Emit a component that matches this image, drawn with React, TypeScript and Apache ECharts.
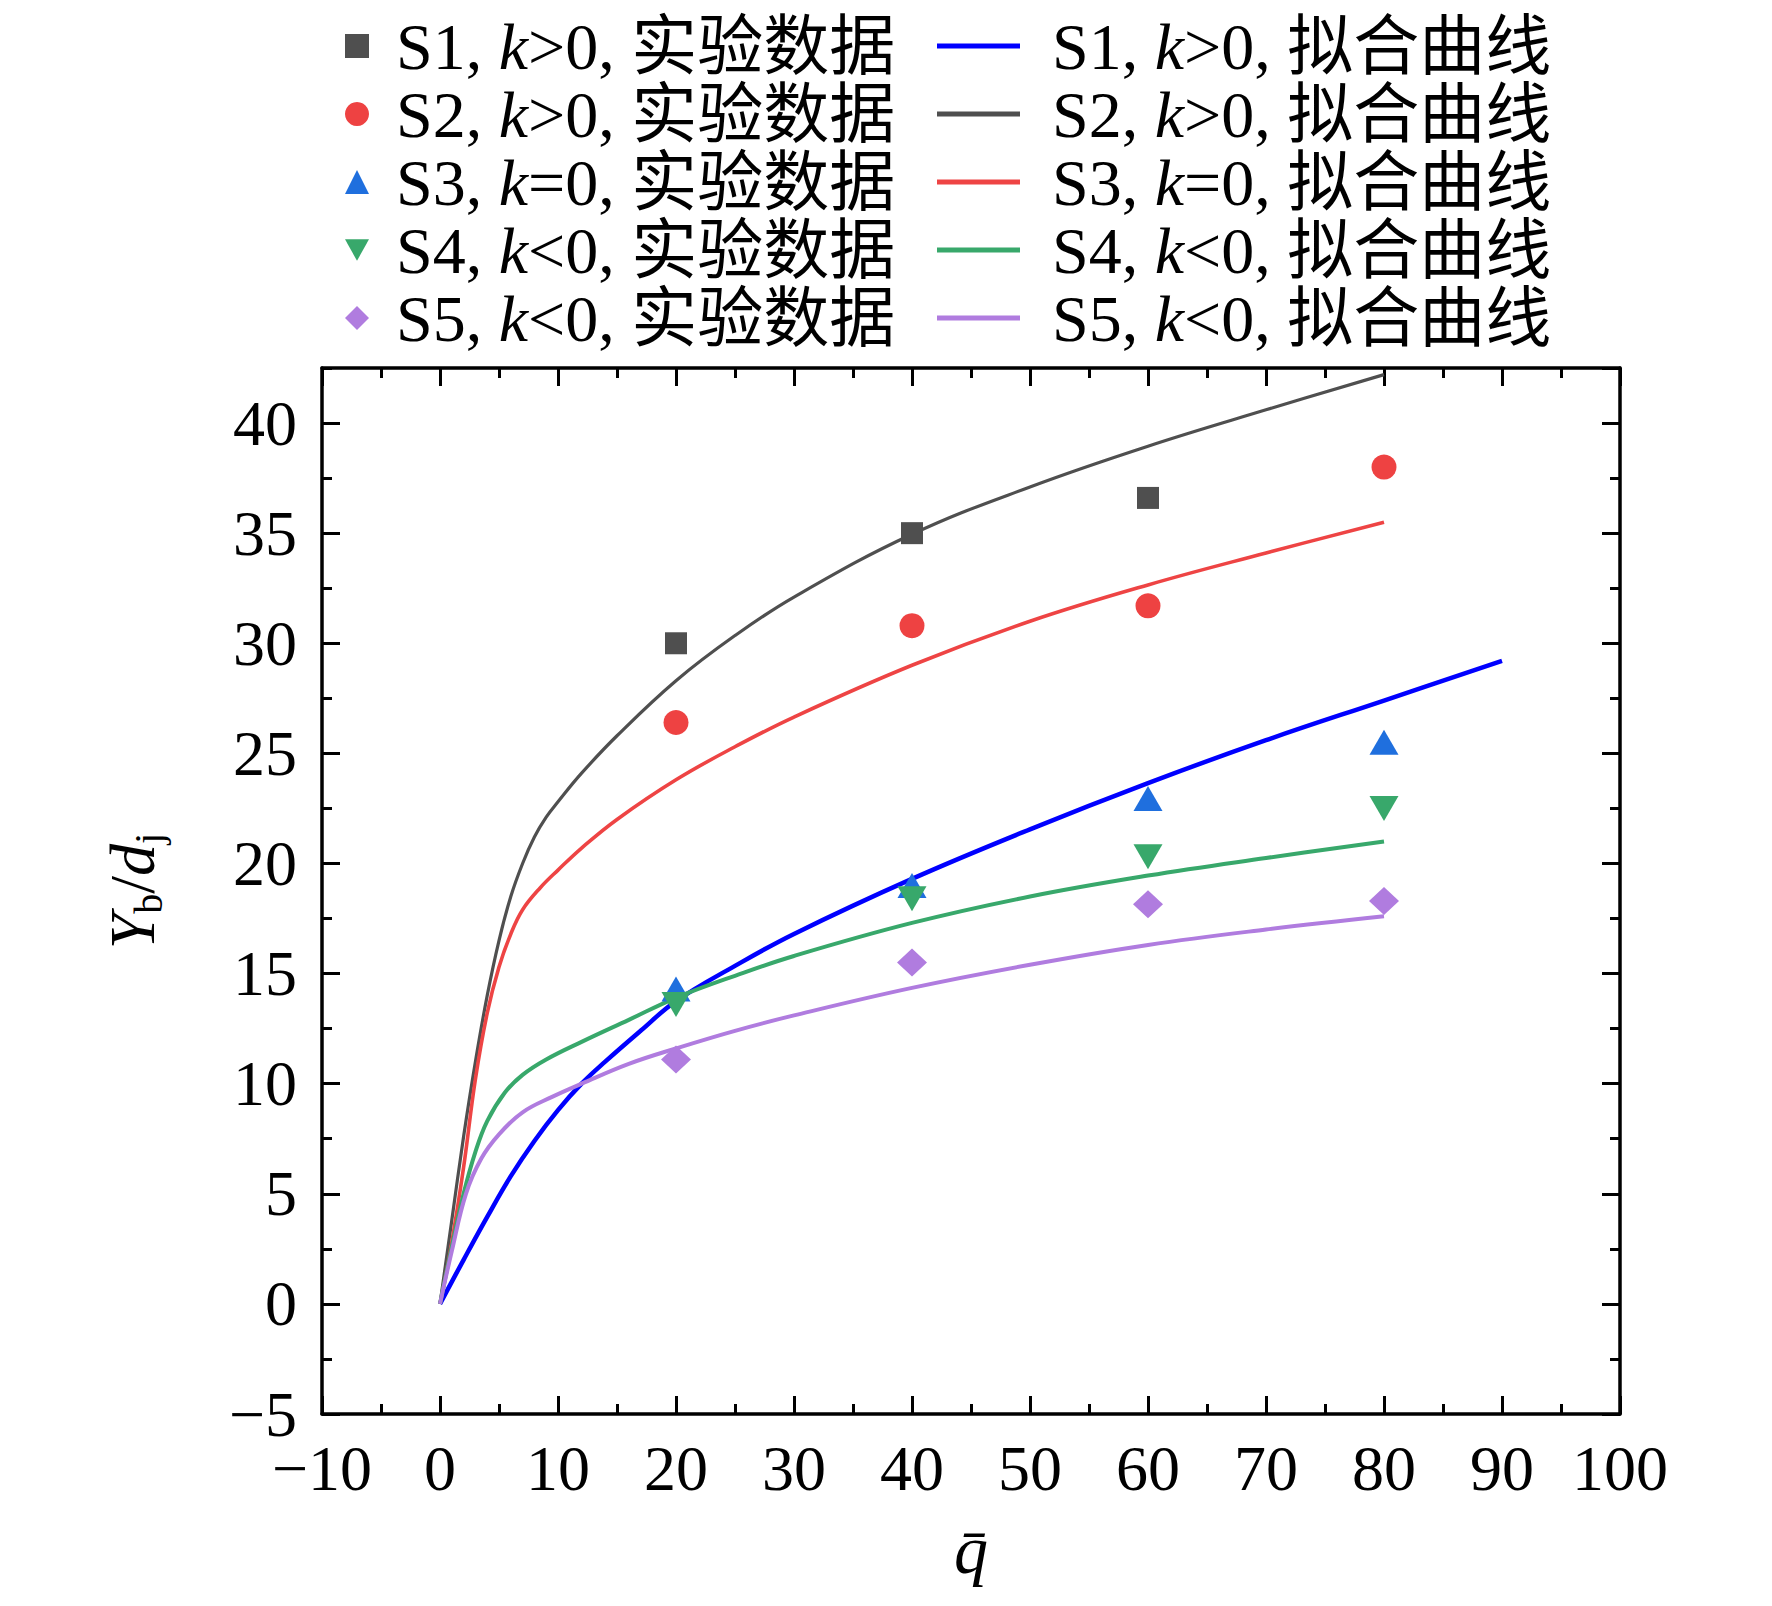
import React, { useEffect, useRef } from "react";
import * as echarts from "echarts";

// ---------- data ----------
const xTicksMin = -10;
const xTicksMax = 100;
const yTicksMin = -5;
const yTicksMax = 42.5;

const expS1: number[][] = [[20, 30.0], [40, 35.0], [60, 36.6]];
const expS2: number[][] = [[20, 26.4], [40, 30.8], [60, 31.7], [80, 38.0]];
const expS3: number[][] = [[20, 14.3], [40, 19.0], [60, 22.95], [80, 25.5]];
const expS4: number[][] = [[20, 13.6], [40, 18.4], [60, 20.3], [80, 22.5]];
const expS5: number[][] = [[20, 11.1], [40, 15.5], [60, 18.15], [80, 18.3]];

const fitS1: number[][] = [
  [0, 0], [2, 2.0], [4, 3.95], [6, 5.8], [8, 7.4], [10, 8.8], [12, 10.0], [14, 11.0],
  [17, 12.4], [20, 13.75], [25, 15.35], [30, 16.8], [40, 19.3], [50, 21.55], [60, 23.65],
  [70, 25.6], [80, 27.4], [90, 29.2],
];
const fitS2: number[][] = [
  [0, 0], [1, 3.8], [2, 7.6], [3, 11.0], [4, 14.0], [5, 16.5], [6, 18.5], [7, 20.0],
  [8, 21.2], [9, 22.1], [10, 22.8], [12, 24.1], [15, 25.8], [20, 28.3], [25, 30.35],
  [30, 32.1], [40, 34.95], [50, 37.1], [60, 38.95], [70, 40.6], [80, 42.2],
];
const fitS3: number[][] = [
  [0, 0], [1, 2.8], [2, 6.2], [3, 10.2], [4, 13.2], [5, 15.3], [6, 16.8], [7, 17.9],
  [8.5, 18.9], [10, 19.7], [12, 20.7], [15, 22.0], [20, 23.8], [25, 25.3], [30, 26.65],
  [40, 29.0], [50, 31.0], [60, 32.65], [70, 34.1], [80, 35.5],
];
const fitS4: number[][] = [
  [0, 0], [1, 2.6], [2, 5.0], [3, 6.9], [4, 8.3], [5.5, 9.6], [7, 10.4], [9, 11.1],
  [12, 11.9], [16, 12.9], [20, 13.9], [25, 14.9], [30, 15.8], [40, 17.3], [50, 18.5],
  [60, 19.45], [70, 20.25], [80, 21.0],
];
const fitS5: number[][] = [
  [0, 0], [1, 2.4], [2.2, 5.0], [3.5, 6.6], [5, 7.7], [7, 8.7], [9.5, 9.4], [12, 10.0],
  [16, 10.9], [20, 11.6], [25, 12.4], [30, 13.1], [40, 14.35], [50, 15.4], [60, 16.3],
  [70, 17.0], [80, 17.6],
];

const expNames = [
  "S1, k>0, 实验数据",
  "S2, k>0, 实验数据",
  "S3, k=0, 实验数据",
  "S4, k<0, 实验数据",
  "S5, k<0, 实验数据",
];
const fitNames = [
  "S1, k>0, 拟合曲线",
  "S2, k>0, 拟合曲线",
  "S3, k=0, 拟合曲线",
  "S4, k<0, 拟合曲线",
  "S5, k<0, 拟合曲线",
];

const expColors = ["#4f4f4f", "#ee4242", "#1f6fde", "#38a86b", "#b07cdf"];
const fitColors = ["#0000ff", "#4f4f4f", "#ee4444", "#38a86b", "#b07cdf"];
const fitWidths = [4.5, 3.2, 3.6, 4, 4];

const FONT = "'Liberation Serif', 'Times New Roman', 'Noto Sans CJK SC', serif";
const DOWN_TRI = "path://M0,0 L10,0 L5,9 Z";

const minus = (v: number) => String(v).replace("-", "\u2212");

export default function App() {
  const ref = useRef<HTMLDivElement>(null);

  useEffect(() => {
    if (!ref.current) return;
    const chart = echarts.init(ref.current, null, { renderer: "svg" });

    const legendText = {
      fontSize: 66,
      lineHeight: 68,
      fontFamily: FONT,
      color: "#000",
      rich: {
        i: { fontSize: 66, lineHeight: 68, fontFamily: FONT, fontStyle: "italic", color: "#000" },
      },
    };
    const legendFmt = (name: string) => name.replace("k", "{i|k}");

    const expData = [expS1, expS2, expS3, expS4, expS5];
    const expSymbols = ["rect", "circle", "triangle", DOWN_TRI, "diamond"];
    const expSizes: any[] = [22, 25, [29, 25], [29, 25], [30, 28]];
    const fitData = [fitS1, fitS2, fitS3, fitS4, fitS5];

    const series: any[] = [];
    fitData.forEach((d, i) => {
      series.push({
        name: fitNames[i],
        type: "line",
        data: d,
        xAxisIndex: 0,
        yAxisIndex: 0,
        smooth: 0.4,
        showSymbol: false,
        symbol: "none",
        lineStyle: { color: fitColors[i], width: fitWidths[i] },
        itemStyle: { color: fitColors[i] },
        z: 2,
      });
    });
    expData.forEach((d, i) => {
      series.push({
        name: expNames[i],
        type: "scatter",
        data: d,
        xAxisIndex: 0,
        yAxisIndex: 0,
        symbol: expSymbols[i],
        symbolSize: expSizes[i],
        itemStyle: { color: expColors[i], opacity: 1 },
        z: 3,
      });
    });

    const tickLine = { color: "#000", width: 3 };
    const axisLine = { show: true, onZero: false, lineStyle: { color: "#000", width: 3.5 } };
    const noLine = { show: false, onZero: false };

    const option: any = {
      animation: false,
      backgroundColor: "#fff",
      grid: { left: 322, right: 152, top: 368, bottom: 192, containLabel: false },
      legend: [
        {
          orient: "vertical",
          left: 340,
          top: 7,
          itemWidth: 24,
          itemHeight: 24,
          itemGap: 0,
          selectedMode: false,
          data: expNames.map((n, i) => ({ name: n, icon: expSymbols[i] })),
          formatter: legendFmt,
          textStyle: { ...legendText, padding: [0, 0, 0, 22] },
        },
        {
          orient: "vertical",
          left: 932,
          top: 7,
          itemWidth: 83,
          itemHeight: 5,
          itemGap: 0,
          icon: "rect",
          selectedMode: false,
          data: fitNames,
          formatter: legendFmt,
          textStyle: { ...legendText, padding: [0, 0, 0, 27] },
        },
      ],
      xAxis: [
        {
          type: "value",
          position: "bottom",
          min: xTicksMin,
          max: xTicksMax,
          interval: 10,
          axisLine,
          axisTick: { show: true, inside: true, length: 18, lineStyle: tickLine },
          minorTick: { show: true, splitNumber: 2, length: 10, lineStyle: tickLine },
          splitLine: { show: false },
          axisLabel: {
            margin: 30,
            fontSize: 64,
            lineHeight: 48,
            fontFamily: FONT,
            color: "#000",
            formatter: (v: number) => minus(v),
          },
          name: "q\u0304",
          nameLocation: "middle",
          nameGap: 102,
          nameTextStyle: { fontSize: 68, fontFamily: FONT, fontStyle: "italic", color: "#000" },
        },
        {
          type: "value",
          position: "top",
          min: xTicksMin,
          max: xTicksMax,
          interval: 10,
          axisLine,
          axisTick: { show: true, inside: true, length: 18, lineStyle: tickLine },
          minorTick: { show: true, splitNumber: 2, length: 10, lineStyle: tickLine },
          splitLine: { show: false },
          axisLabel: { show: false },
        },
      ],
      yAxis: [
        {
          type: "value",
          position: "left",
          min: yTicksMin,
          max: yTicksMax,
          interval: 5,
          axisLine,
          axisTick: { show: true, inside: true, length: 18, lineStyle: tickLine },
          splitLine: { show: false },
          axisLabel: {
            margin: 25,
            fontSize: 64,
            lineHeight: 48,
            fontFamily: FONT,
            color: "#000",
            showMaxLabel: false,
            formatter: (v: number) => (Math.abs(v % 5) < 1e-6 ? minus(v) : ""),
          },
          name: "{i|Y}{s|b}{n|/}{i|d}{s|j}",
          nameLocation: "middle",
          nameGap: 154,
          nameRotate: 90,
          nameTextStyle: {
            fontSize: 64,
            fontFamily: FONT,
            color: "#000",
            rich: {
              i: { fontSize: 64, lineHeight: 72, fontFamily: FONT, fontStyle: "italic", color: "#000" },
              n: { fontSize: 64, lineHeight: 72, fontFamily: FONT, color: "#000" },
              s: { fontSize: 40, lineHeight: 40, fontFamily: FONT, color: "#000", verticalAlign: "bottom" },
            },
          },
        },
        {
          type: "value",
          position: "left",
          min: yTicksMin,
          max: yTicksMax,
          interval: 2.5,
          axisLine: noLine,
          axisTick: { show: true, inside: true, length: 10, lineStyle: tickLine },
          splitLine: { show: false },
          axisLabel: { show: false },
        },
        {
          type: "value",
          position: "right",
          min: yTicksMin,
          max: yTicksMax,
          interval: 5,
          axisLine,
          axisTick: { show: true, inside: true, length: 18, lineStyle: tickLine },
          splitLine: { show: false },
          axisLabel: { show: false },
        },
        {
          type: "value",
          position: "right",
          min: yTicksMin,
          max: yTicksMax,
          interval: 2.5,
          axisLine: noLine,
          axisTick: { show: true, inside: true, length: 10, lineStyle: tickLine },
          splitLine: { show: false },
          axisLabel: { show: false },
        },
      ],
      series,
    };

    chart.setOption(option);
    return () => chart.dispose();
  }, []);

  return (
    <div
      ref={ref}
      style={{ position: "fixed", left: 0, top: 0, width: 1772, height: 1606, background: "#fff" }}
    />
  );
}
